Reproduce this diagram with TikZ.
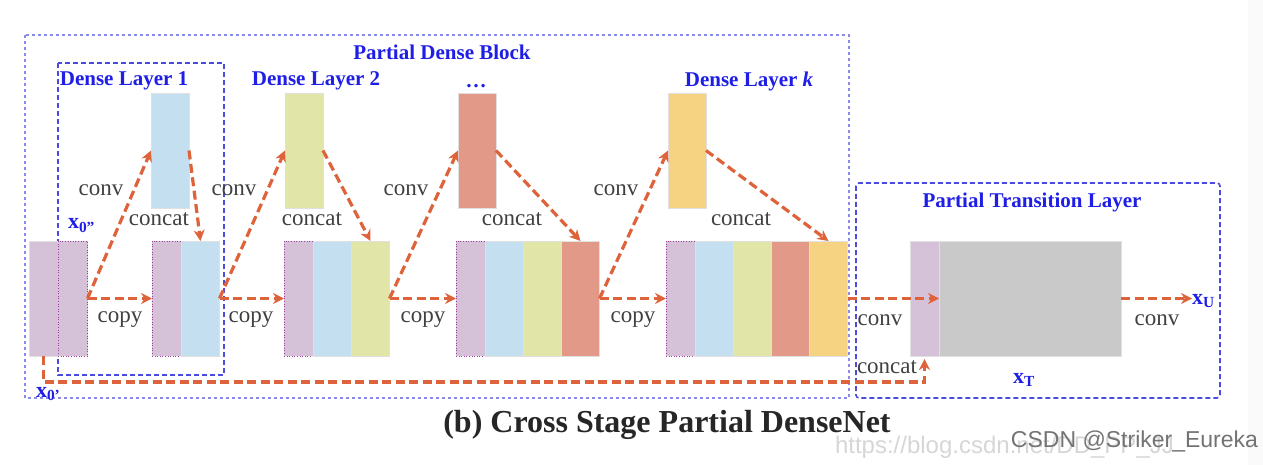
\documentclass[tikz,border=0pt]{standalone}
\usepackage{fontspec}
\setmainfont{Liberation Serif}
\newfontfamily\wmfont{Liberation Sans}
\usetikzlibrary{arrows.meta}

\definecolor{cpurple}{RGB}{213,193,216}
\definecolor{cblue}{RGB}{196,224,240}
\definecolor{cgreen}{RGB}{226,229,168}
\definecolor{cred}{RGB}{227,153,135}
\definecolor{corange}{RGB}{245,211,130}
\definecolor{cgray}{RGB}{201,201,201}
\definecolor{carrow}{RGB}{222,98,58}
\definecolor{cbox}{RGB}{75,75,222}
\definecolor{clabel}{RGB}{30,30,230}
\definecolor{ctext}{RGB}{64,64,64}

\begin{document}
\begin{tikzpicture}[x=1pt, y=-1pt,
  every node/.style={inner sep=0pt, outer sep=0pt},
  strip/.style={rectangle, anchor=north west, minimum height=115pt,
    draw=black!12, line width=.6pt},
  feat/.style={strip, minimum width=38pt},
  part/.style={strip, minimum width=29.5pt, fill=cpurple,
    draw=violet!75, dotted, line width=1pt},
  flow/.style={draw=carrow, line width=3.2pt, dash pattern=on 9pt off 4.5pt,
    -{Stealth[length=11pt,width=11pt]}},
  lbl/.style={font=\fontsize{23}{26}\selectfont, text=ctext},
  head/.style={font=\bfseries\fontsize{21}{24}\selectfont, text=clabel},
  var/.style={font=\bfseries\fontsize{22}{24}\selectfont, text=clabel, anchor=base west},
  layerbox/.style={draw=cbox, line width=1.6pt, dash pattern=on 5pt off 3pt},
  blockbox/.style={draw=cbox!65, line width=1.6pt, dash pattern=on 3pt off 3pt}]

  \useasboundingbox (0,0) rectangle (1263,465);
  \fill[black!2] (1248,0) rectangle (1263,465);

  % Boxes
  \draw[blockbox] (25,35) rectangle (849,398);
  \draw[layerbox] (58,63) rectangle (224,375);
  \draw[layerbox, rounded corners=3pt] (856,183) rectangle (1220,398);

  % Input x0
  \node[feat, fill=cpurple, minimum width=29pt] (xsplit) at (29,241) {};
  \node[part] (o0-0) at (xsplit.north east) {};

  % Dense layers: new features
  \foreach \n/\px/\c in {1/151/cblue, 2/285/cgreen, 3/458/cred, 4/668/corange}
    \node[feat, fill=\c] (t\n) at (\px,93) {};

  % Dense layers: concatenated outputs
  \foreach \n/\px/\cols in {1/152/{cblue}, 2/284/{cblue,cgreen},
      3/456/{cblue,cgreen,cred}, 4/666/{cblue,cgreen,cred,corange}}{
    \node[part] (o\n-0) at (\px,241) {};
    \foreach \c [count=\i] in \cols {
      \pgfmathtruncatemacro\j{\i-1}
      \node[feat, fill=\c] (o\n-\i) at (o\n-\j.north east) {};
    }
  }

  % Transition
  \node[strip, fill=cpurple, minimum width=29pt] (tp) at (910,241) {};
  \node[strip, fill=cgray, minimum width=182pt] (tg) at (tp.north east) {};

  % Titles
  \node[head] (pdb) at (442,52) {Partial Dense Block};
  \node[head] (dl1) at (124,81) {Dense Layer 1};
  \node[head] (dl2) at (316,81) {Dense Layer 2};
  \node[head, anchor=base] (dl3) at (476,88) {\dots};
  \node[head] (dlk) at (749,81) {Dense Layer \textit{k}};
  \node[head] (ptl) at (1032,202) {Partial Transition Layer};

  % Labels
  \foreach \n/\a/\b/\d in {1/101/159/120, 2/234/312/251, 3/406/512/423, 4/616/741/633}{
    \node[lbl] (conv\n) at (\a,190) {conv};
    \node[lbl] (concat\n) at (\b,219) {concat};
    \node[lbl] (copy\n) at (\d,320) {copy};
  }
  \node[lbl] (conv5) at (880,320) {conv};
  \node[lbl] (conv6) at (1157,320) {conv};
  \node[lbl] (concat5) at (887,367) {concat};

  \node[var] (x0b) at (68,229) {x\textsubscript{0”}};
  \node[var] (x0a) at (36,397) {x\textsubscript{0’}};
  \node[var] (xT) at (1013,383) {x\textsubscript{T}};
  \node[var] (xU) at (1192,304) {x\textsubscript{U}};

  % Connectors
  \foreach \n [evaluate=\n as \m using int(\n-1)] in {1,...,4}{
    \draw[flow] (o\m-\m.east) -- (t\n.west);
    \draw[flow] (t\n.east) -- (o\n-\n.north);
    \draw[flow] (o\m-\m.east) -- (o\n-0.west);
  }
  \draw[flow] (o4-4.east) -- (tp.east);
  \draw[flow] (tg.east) -- (tg.east -| xU.west);
  \draw[flow, shorten >=3pt] (xsplit.south) -- ++(0,26) -| (tp.south);

  % Caption
  \node[font=\bfseries\fontsize{32}{36}\selectfont, text=black!85, anchor=base] (cap)
    at (667,432) {(b) Cross Stage Partial DenseNet};
  \node[font=\wmfont\fontsize{24}{26}\selectfont, text=black!16, anchor=west] (url)
    at (835,447) {https://blog.csdn.net/DD\_PP\_JJ};
  \node[font=\wmfont\fontsize{23}{25}\selectfont, text=black!55, anchor=east] (wm)
    at (1258,441) {CSDN @Striker\_Eureka};
\end{tikzpicture}
\end{document}
